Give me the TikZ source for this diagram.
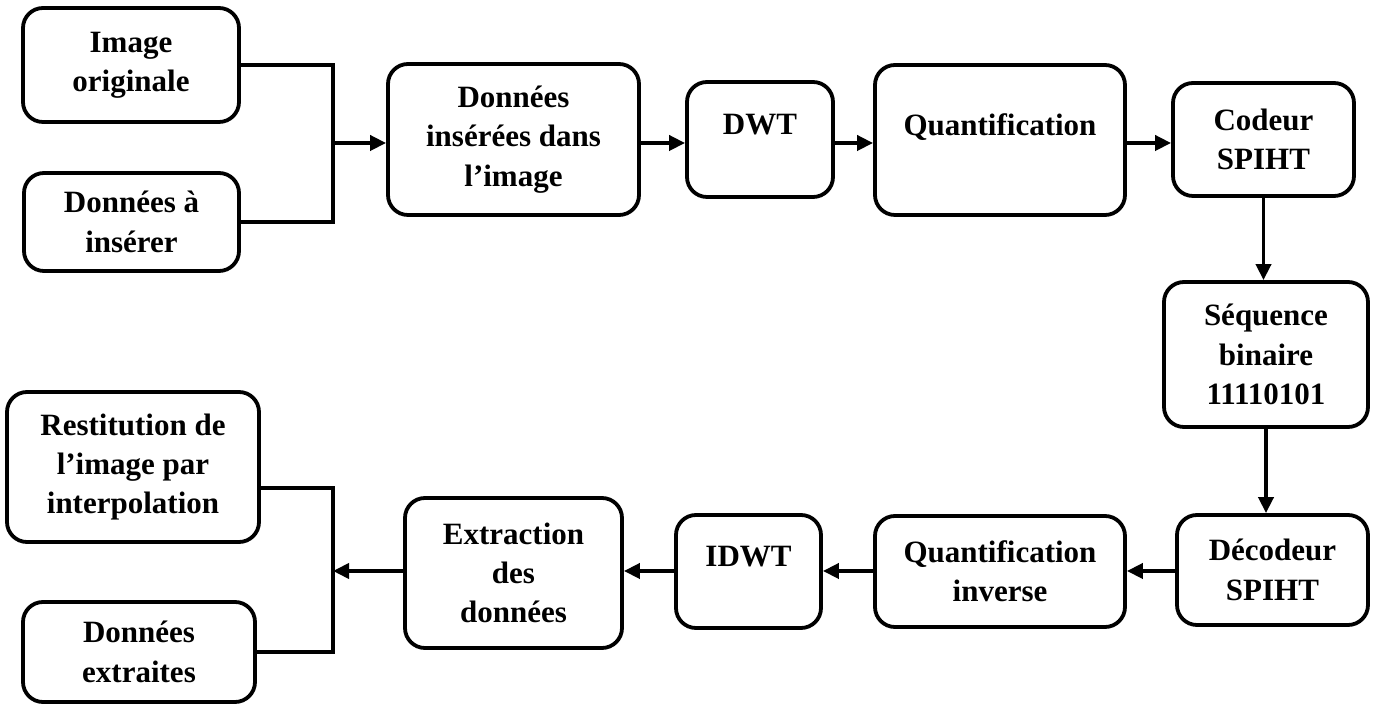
\documentclass[tikz,border=0pt]{standalone}
\usepackage{fontspec}
\setmainfont{Liberation Serif}
\usetikzlibrary{arrows.meta}

\tikzset{
	bloc/.style={draw, line width=1.9pt, rounded corners=10pt, align=center,
		inner sep=0pt, font=\fontsize{15.5pt}{19.7pt}\selectfont\bfseries},
	haut/.style={text depth=15pt},
	trait/.style={line width=1.9pt},
	fleche/.style={line width=1.9pt, -{Triangle[length=8pt,width=7.5pt]}},
}

\begin{document}
\begin{tikzpicture}[x=0.5pt,y=-0.5pt]
	\useasboundingbox (0,0) rectangle (1378,704);

	% CODAGE
	\node[bloc, minimum width=108pt, minimum height=57pt] (orig) at (131,65) {Image\\originale};
	\node[bloc, minimum width=107.5pt, minimum height=49pt] (ains) at (131.5,222) {Données à\\insérer};
	\node[bloc, minimum width=125.5pt, minimum height=75.5pt] (ins) at (513.5,139.5) {Données\\insérées dans\\l’image};
	\node[bloc, haut, minimum width=73pt, minimum height=57.5pt] (dwt) at (760,139.5) {DWT};
	\node[bloc, haut, minimum width=125pt, minimum height=75pt] (quant) at (1000,140) {Quantification};
	\node[bloc, minimum width=90.5pt, minimum height=56.5pt] (cod) at (1263.5,139.5) {Codeur\\SPIHT};
	\node[bloc, minimum width=102pt, minimum height=72.5pt] (seq) at (1266,354.5) {Séquence\\binaire\\11110101};

	\coordinate (jin) at (333,143);
	\draw[trait] (orig.east) -| (jin) |- (ains.east);
	\draw[fleche] (jin) -- (jin -| ins.west);
	\draw[fleche] (jin -| ins.east) -- (jin -| dwt.west);
	\draw[fleche] (jin -| dwt.east) -- (jin -| quant.west);
	\draw[fleche] (jin -| quant.east) -- (jin -| cod.west);
	\draw[fleche] (cod.south) -- (cod.south |- seq.north);

	% DECODAGE
	\node[bloc, minimum width=95.5pt, minimum height=55pt] (dec) at (1272.5,570) {Décodeur\\SPIHT};
	\node[bloc, minimum width=125pt, minimum height=55.5pt] (qinv) at (1000,571.5) {Quantification\\inverse};
	\node[bloc, haut, minimum width=72.5pt, minimum height=56.5pt] (idwt) at (748.5,571.5) {IDWT};
	\node[bloc, minimum width=108.5pt, minimum height=75pt] (ext) at (513.5,573) {Extraction\\des\\données};
	\node[bloc, minimum width=126pt, minimum height=75pt] (rest) at (133,467) {Restitution de\\l’image par\\interpolation};
	\node[bloc, minimum width=116pt, minimum height=50pt] (dext) at (139,652) {Données\\extraites};

	\coordinate (jout) at (333,571);
	\draw[fleche] (seq.south) -- (seq.south |- dec.north);
	\draw[fleche] (jout -| dec.west) -- (jout -| qinv.east);
	\draw[fleche] (jout -| qinv.west) -- (jout -| idwt.east);
	\draw[fleche] (jout -| idwt.west) -- (jout -| ext.east);

	\draw[trait] ([yshift=-10.5pt]rest.east) -| (jout) |- (dext.east);
	\draw[fleche] (jout -| ext.west) -- (jout);
\end{tikzpicture}
\end{document}
